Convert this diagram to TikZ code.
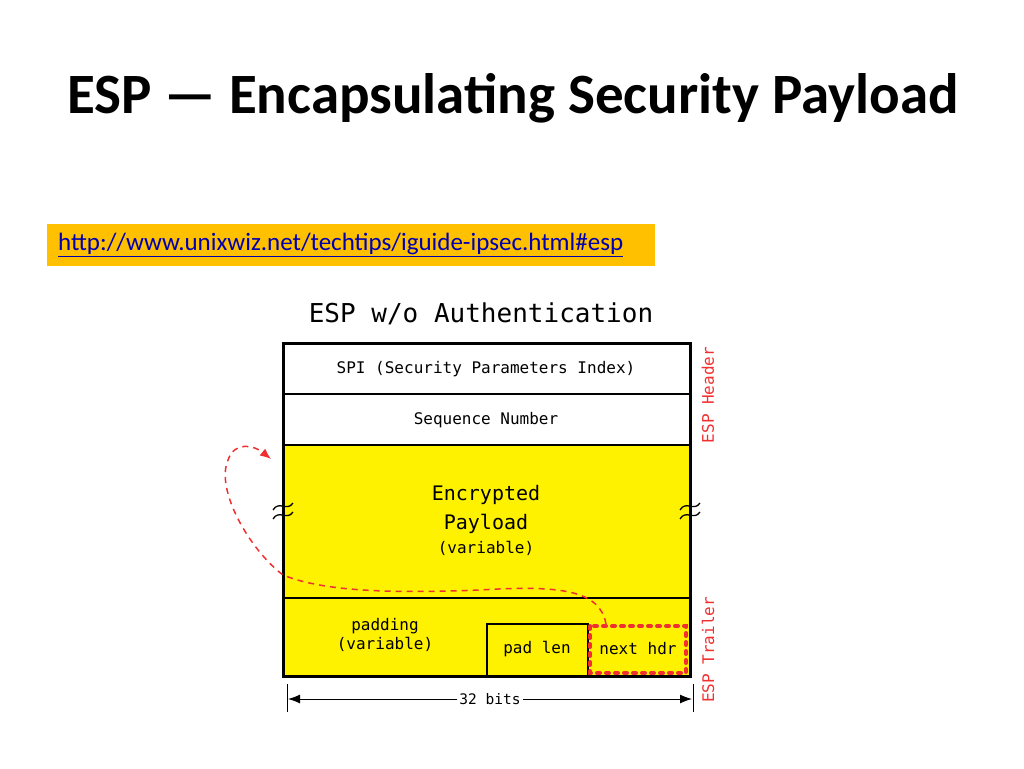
\documentclass[tikz,border=0pt]{standalone}
\usepackage{fontspec}
\setmainfont{Carlito}
\newfontfamily\mono{DejaVu Sans Mono}
\usetikzlibrary{arrows.meta}
\definecolor{espred}{HTML}{F03030}
\definecolor{linkbg}{HTML}{FFC000}
\begin{document}
\begin{tikzpicture}[x=1pt,y=-1pt,
  lbl/.style={font=\mono\fontsize{16}{19}\selectfont,align=center},
  big/.style={font=\mono\fontsize{20}{29}\selectfont,align=center},
  side/.style={font=\mono\fontsize{16}{19}\selectfont,text=espred,rotate=90}]
\useasboundingbox (0,0) rectangle (1024,768);
\node[font=\bfseries\fontsize{57}{66}\selectfont,anchor=west,inner sep=0pt] (title) at (67,98) {ESP — Encapsulating Security Payload};
\fill[linkbg] (47,224) rectangle (655,266);
\node[font=\fontsize{25}{30}\selectfont,text=blue!70!black,anchor=west,inner sep=0pt] (link) at (58,245) {\underline{http://www.unixwiz.net/techtips/iguide-ipsec.html\#esp}};
\node[font=\mono\fontsize{26}{30}\selectfont] (head) at (481,314) {ESP w/o Authentication};
% box
\fill[white] (283,343) rectangle (690,445);
\fill[yellow] (283,445) rectangle (690,676);
\draw[line width=1.2pt] (283,394) -- (690,394);
\draw[line width=1.2pt] (283,445) -- (690,445);
\draw[line width=1.2pt] (283,598) -- (690,598);
\draw[line width=1.5pt] (487,676) -- (487,624) -- (588,624) -- (588,676);
\draw[line width=3pt] (283,343) rectangle (690,676);
\node[lbl] (spi) at (486,369) {SPI (Security Parameters Index)};
\node[lbl] (seq) at (486,420) {Sequence Number};
\node[big] (enc) at (486,509) {Encrypted\\Payload};
\node[lbl] (var) at (486,548) {(variable)};
\node[lbl] (pad) at (385,635) {padding\\(variable)};
\node[lbl] (pl) at (537,649) {pad len};
\node[lbl] (nh) at (638,649) {next hdr};
\draw[espred,line width=4pt,line cap=round,dash pattern=on 3pt off 6pt] (590,626) rectangle (686,673);
\coordinate (c1) at (606,624);
\coordinate (c2) at (283,575);
\coordinate (c3) at (271,459);
\draw[espred,line width=1.5pt,dash pattern=on 6pt off 5pt,-{Latex[length=11pt,width=9pt]}] (c1) .. controls (600,590) and (560,585) .. (480,590) .. controls (380,594) and (320,590) .. (c2) .. controls (250,550) and (215,490) .. (228,460) .. controls (235,440) and (255,446) .. (c3);
% squiggles
\foreach \xx in {283,690}{
\draw[line width=1.3pt] (\xx-10,510) .. controls (\xx-4,500) and (\xx+4,512) .. (\xx+10,503);
\draw[line width=1.3pt] (\xx-10,519) .. controls (\xx-4,509) and (\xx+4,521) .. (\xx+10,512);}
\node[side] (eh) at (708,395) {ESP Header};
\node[side] (et) at (708,650) {ESP Trailer};
% 32 bits
\draw[line width=1pt] (287,684) -- (287,712);
\draw[line width=1pt] (693,684) -- (693,712);
\node[font=\mono\fontsize{14.5}{17}\selectfont,fill=white,inner sep=2pt] (bits) at (490,699) {32 bits};
\draw[line width=1pt,-{Latex[length=12pt,width=9pt]}] (bits.west) -- (288,699);
\draw[line width=1pt,-{Latex[length=12pt,width=9pt]}] (bits.east) -- (692,699);
\end{tikzpicture}
\end{document}
